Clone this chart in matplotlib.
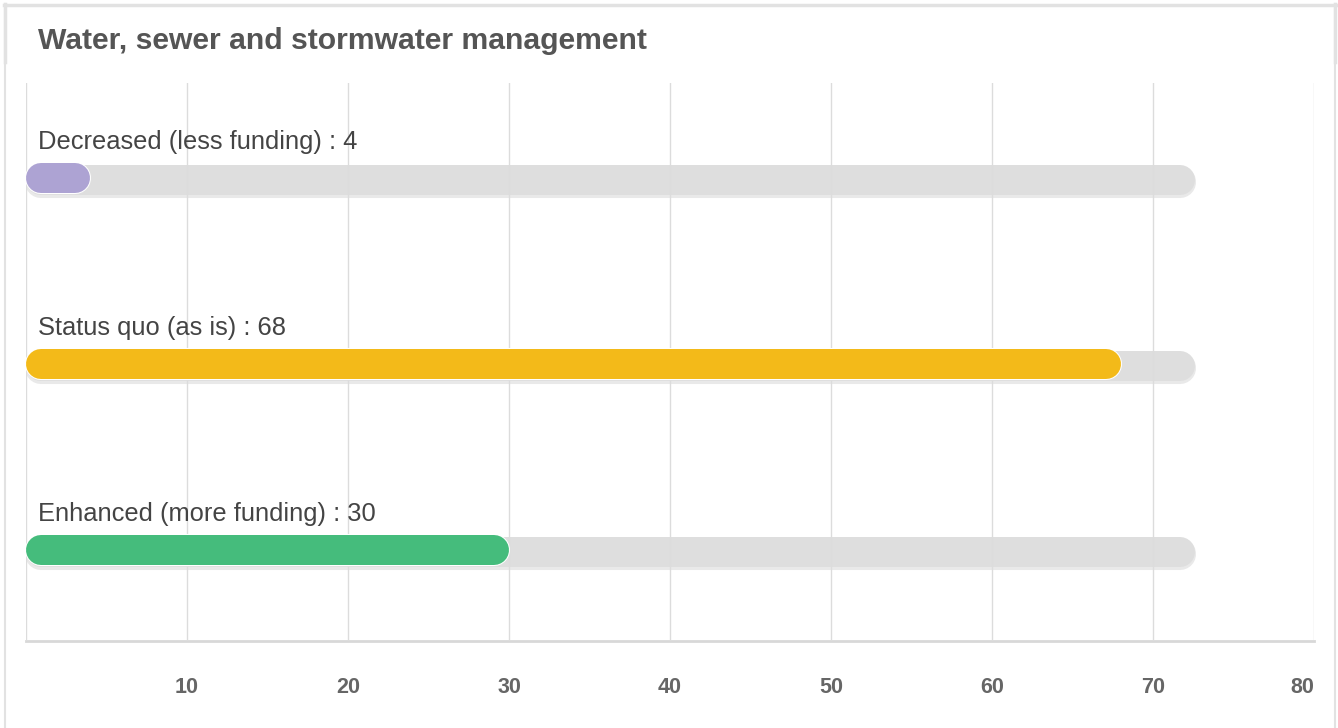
import matplotlib
matplotlib.use("Agg")
from matplotlib import pyplot as plt
from matplotlib.lines import Line2D

plt.rcParams['font.family'] = ['Liberation Sans', 'DejaVu Sans']

title = "Water, sewer and stormwater management"
categories = ["Decreased (less funding)", "Status quo (as is)", "Enhanced (more funding)"]
values = [4, 68, 30]
colors = ["#ADA3D3", "#F3BA19", "#45BC7C"]
track_max = 72.6
ticks = [0, 10, 20, 30, 40, 50, 60, 70, 80]
tick_labels = ["", "10", "20", "30", "40", "50", "60", "70", "80"]

W, H = 1338, 728
fig = plt.figure(figsize=(W / 100, H / 100), dpi=100)
ax = fig.add_axes([26 / W, 1 - 641 / H, (1314 - 26) / W, (641 - 83) / H])

ax.set_xlim(0, 80)
ax.set_ylim(2.48, -0.52)

# bar geometry in pixels -> data units
bar_px = 30
px_per_unit = (1314 - 26) / 80
r = (bar_px / 2) / px_per_unit
lw = bar_px * 72 / 100

for i, (cat, v, c) in enumerate(zip(categories, values, colors)):
    # background track with a soft shadow
    ax.plot([r, track_max - r], [i + 0.012, i + 0.012], color="#E9E9E9",
            lw=lw + 1.5, solid_capstyle="round", zorder=1)
    ax.plot([r, track_max - r], [i, i], color="#DEDEDE",
            lw=lw, solid_capstyle="round", zorder=2)
    ax.plot([r, v - r], [i - 0.008, i - 0.008], color="white",
            lw=lw + 1.5, solid_capstyle="round", zorder=3)
    ax.plot([r, v - r], [i - 0.008, i - 0.008], color=c,
            lw=lw, solid_capstyle="round", zorder=4)
    ax.annotate(f"{cat} : {v}", xy=(0, i), xytext=(12, 38),
                textcoords="offset pixels", va="center", ha="left",
                fontsize=18.4, color="#444444")

ax.set_xticks(ticks)
ax.set_xticklabels(tick_labels, fontsize=15.5, fontweight="bold", color="#666666")
tl = ax.get_xticklabels()
tl[-1].set_ha("right")
ax.tick_params(axis="x", length=0, pad=26)
ax.set_yticks([])
# grid drawn over the grey tracks but under the coloured bars
ax.set_axisbelow(False)
ax.grid(axis="x", color="#DCDCDC", lw=1)
for gl in ax.get_xgridlines():
    gl.set_zorder(2.5)
for s in ["top", "right", "left"]:
    ax.spines[s].set_visible(False)
ax.spines["bottom"].set_color("#D8D8D8")
ax.spines["bottom"].set_linewidth(2)

fig.text(38 / W, 1 - 41 / H, title, fontsize=21.7, fontweight="bold",
         color="#555555", va="center", ha="left")

# card border
border = "#E2E2E2"
fig.add_artist(Line2D([4 / W, 1336 / W], [1 - 5 / H, 1 - 5 / H], color=border, lw=2.5))
fig.add_artist(Line2D([5 / W, 5 / W], [0, 1 - 4 / H], color=border, lw=1.5))
fig.add_artist(Line2D([1335 / W, 1335 / W], [0, 1 - 4 / H], color=border, lw=1.5))
fig.add_artist(Line2D([5 / W, 5 / W], [1 - 62 / H, 1 - 4 / H], color=border, lw=2.5))
fig.add_artist(Line2D([1335 / W, 1335 / W], [1 - 62 / H, 1 - 4 / H], color=border, lw=2.5))

fig.savefig("out.png", dpi=100)
